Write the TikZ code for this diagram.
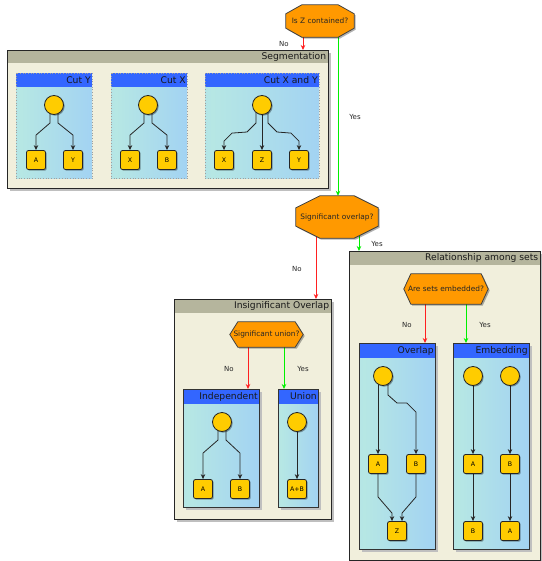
\documentclass[tikz,border=0pt]{standalone}
\usepackage{fontspec}
\setmainfont{DejaVu Sans}
\usetikzlibrary{calc,shadows,arrows.meta}
\pgfdeclarelayer{framelayer}
\pgfdeclarelayer{edgelayer}
\pgfdeclarelayer{decbg}
\pgfsetlayers{framelayer,edgelayer,decbg,main}
\definecolor{frbg}{HTML}{F1EFDC}
\definecolor{frtitlecol}{HTML}{B5B59D}
\definecolor{bxtitle}{HTML}{3366FF}
\definecolor{shA}{HTML}{A6D3F4}
\definecolor{shB}{HTML}{B6E7E4}
\definecolor{shC}{HTML}{98C8FA}
\definecolor{dorange}{HTML}{FF9900}
\definecolor{dyellow}{HTML}{FFCC00}
\definecolor{lred}{HTML}{FF2020}
\definecolor{lgreen}{HTML}{00F000}
\pgfdeclarehorizontalshading{boxshade}{100bp}{color(0bp)=(shA); color(28bp)=(shB); color(100bp)=(shC)}
\tikzset{
  frbody/.style={rectangle, inner sep=0, anchor=north west, fill=frbg,
    drop shadow={shadow xshift=3pt, shadow yshift=-3pt, opacity=1, fill=black!25}},
  frborder/.style={draw=black!85, line width=0.9pt},
  ttl/.style={inner sep=0, font=\fontsize{9.2}{11}\selectfont, text=black!90},
  segbox/.style={rectangle, inner sep=0, anchor=north west, shading=boxshade},
  segborder/.style={draw=gray!75, dotted, line width=0.7pt},
  solbox/.style={rectangle, inner sep=0, anchor=north west, shading=boxshade,
    drop shadow={shadow xshift=3pt, shadow yshift=-3pt, opacity=1, fill=black!25}},
  solborder/.style={draw=black!80, line width=0.8pt},
  circ/.style={circle, minimum size=19pt, inner sep=0, fill=dyellow, draw=black!85, line width=0.8pt,
    drop shadow={shadow xshift=1.2pt, shadow yshift=-1.2pt, opacity=0.35, fill=black}},
  leaf/.style={rectangle, rounded corners=2pt, minimum size=19pt, inner sep=0, fill=dyellow,
    draw=black!85, line width=0.8pt, font=\fontsize{6.3}{7}\selectfont,
    drop shadow={shadow xshift=1.2pt, shadow yshift=-1.2pt, opacity=0.35, fill=black}},
  dec/.style={rectangle, inner sep=0, font=\fontsize{7.4}{8}\selectfont, text=black!85},
  decshape/.style={fill=dorange, draw=black!75, line width=0.8pt,
    drop shadow={shadow xshift=1.5pt, shadow yshift=-1.5pt, opacity=0.3, fill=black}},
  ed/.style={draw=black!85, line width=0.8pt, -{Stealth[length=5pt,width=4.5pt]}},
  redl/.style={draw=lred, line width=0.8pt, -{Stealth[length=5pt,width=4.5pt]}},
  greenl/.style={draw=lgreen, line width=0.8pt, -{Stealth[length=5pt,width=4.5pt]}},
  lbl/.style={inner sep=0, font=\fontsize{7}{8}\selectfont, text=black!85},
}
\newcommand\bigframe[7]{%
  \begin{pgfonlayer}{framelayer}
  \node[frbody, minimum width=#4pt, minimum height=#5pt] (#1) at (#2,#3) {};
  \fill[frtitlecol] (#1.north west) rectangle ($(#1.north east)+(0,#6)$);
  \node[ttl, anchor=east] (#1t) at ($(#1.north east)+(-2,#6/2)$) {#7};
  \draw[frborder] (#1.north west) rectangle (#1.south east);
  \end{pgfonlayer}}
\newcommand\innerbox[8]{%
  \begin{pgfonlayer}{framelayer}
  \node[#7, minimum width=#4pt, minimum height=#5pt] (#1) at (#2,#3) {};
  \fill[bxtitle] (#1.north west) rectangle ($(#1.north east)+(0,14.5)$);
  \node[ttl, anchor=east] (#1t) at ($(#1.north east)+(-1.5,7.5)$) {#6};
  \draw[#8] (#1.north west) rectangle (#1.south east);
  \end{pgfonlayer}}
\newcommand\octo[3]{%
  \begin{pgfonlayer}{decbg}
  \draw[decshape] ($(#1.north west)+(#2,0)$) -- ($(#1.north east)+(-#2,0)$) -- ($(#1.north east)+(0,#3)$)
   -- ($(#1.south east)+(0,-#3)$) -- ($(#1.south east)+(-#2,0)$) -- ($(#1.south west)+(#2,0)$)
   -- ($(#1.south west)+(0,-#3)$) -- ($(#1.north west)+(0,#3)$) -- cycle;
  \end{pgfonlayer}}
\newcommand\hexa[2]{%
  \begin{pgfonlayer}{decbg}
  \draw[decshape] ($(#1.north west)+(#2,0)$) -- ($(#1.north east)+(-#2,0)$) -- (#1.east)
   -- ($(#1.south east)+(-#2,0)$) -- ($(#1.south west)+(#2,0)$) -- (#1.west) -- cycle;
  \end{pgfonlayer}}
\begin{document}
\begin{tikzpicture}[x=1pt,y=-1pt]
\useasboundingbox (0,0) rectangle (541,561);
% frames
\bigframe{seg}{7}{50}{321}{138}{13}{Segmentation}
\bigframe{insig}{174}{299}{157}{220}{14}{Insignificant Overlap}
\bigframe{rel}{349}{251}{191}{309}{14}{Relationship among sets}
\innerbox{cuty}{16}{73}{76}{105}{Cut Y}{segbox}{segborder}
\innerbox{cutx}{111}{73}{76}{105}{Cut X}{segbox}{segborder}
\innerbox{cutxy}{205}{73}{114}{105}{Cut X and Y}{segbox}{segborder}
\innerbox{indep}{183}{389}{76}{118}{Independent}{solbox}{solborder}
\innerbox{union}{278}{389}{40}{118}{Union}{solbox}{solborder}
\innerbox{ovl}{359}{343}{76}{206}{Overlap}{solbox}{solborder}
\innerbox{emb}{453}{343}{76}{206}{Embedding}{solbox}{solborder}
% decisions
\node[dec, minimum width=68pt, minimum height=32pt] (d1) at (320,21) {Is Z contained?};
\octo{d1}{16}{9}
\node[dec, minimum width=82pt, minimum height=42pt] (d2) at (337,217) {Significant overlap?};
\octo{d2}{24}{12}
\node[dec, minimum width=73pt, minimum height=25pt] (d3) at (266.5,334.5) {Significant union?};
\hexa{d3}{8}
\node[dec, minimum width=84pt, minimum height=30pt] (d4) at (446,289) {Are sets embedded?};
\hexa{d4}{7}
% Cut Y
\node[circ] (cy0) at (54,105) {};
\node[leaf] (cyA) at (36,160) {A};
\node[leaf] (cyY) at (73,160) {Y};
% Cut X
\node[circ] (cx0) at (148,105) {};
\node[leaf] (cxX) at (130,160) {X};
\node[leaf] (cxB) at (167,160) {B};
% Cut X and Y
\node[circ] (cxy0) at (262,105) {};
\node[leaf] (cxyX) at (224,160) {X};
\node[leaf] (cxyZ) at (262,160) {Z};
\node[leaf] (cxyY) at (299,160) {Y};
% Independent
\node[circ] (in0) at (222,422) {};
\node[leaf] (inA) at (203,489) {A};
\node[leaf] (inB) at (240,489) {B};
% Union
\node[circ] (un0) at (297,422) {};
\node[leaf] (unAB) at (297,489) {A+B};
% Overlap
\node[circ] (ov0) at (383,376) {};
\node[leaf] (ovA) at (378,464) {A};
\node[leaf] (ovB) at (416,464) {B};
\node[leaf] (ovZ) at (397,531) {Z};
% Embedding
\node[circ] (em1) at (473,376) {};
\node[circ] (em2) at (510,376) {};
\node[leaf] (emA) at (473,464) {A};
\node[leaf] (emB) at (510,464) {B};
\node[leaf] (emB2) at (473,531) {B};
\node[leaf] (emA2) at (510,531) {A};
% labels
\node[lbl] (l1) at (284,44) {No};
\node[lbl] (l2) at (355,117) {Yes};
\node[lbl] (l3) at (297,269) {No};
\node[lbl] (l4) at (377,244) {Yes};
\node[lbl] (l5) at (229,369) {No};
\node[lbl] (l6) at (303,369) {Yes};
\node[lbl] (l7) at (407,325) {No};
\node[lbl] (l8) at (485,325) {Yes};
\begin{pgfonlayer}{edgelayer}
% decision connectors
\path (d1.center) ++(-17,0) coordinate (s1);
\draw[redl] (s1) -- (s1 |- seg.north);
\path (d1.center) ++(18,0) coordinate (s2);
\draw[greenl] (s2) -- (s2 |- d2.north);
\path (d2.center) ++(-21,0) coordinate (s3);
\draw[redl] (s3) -- (s3 |- insig.north);
\path (d2.center) ++(22,0) coordinate (s4);
\draw[greenl] (s4) -- (s4 |- rel.north);
\path (d3.center) ++(-18.5,0) coordinate (s5);
\draw[redl] (s5) -- (s5 |- indep.north);
\path (d3.center) ++(17.5,0) coordinate (s6);
\draw[greenl] (s6) -- (s6 |- union.north);
\path (d4.center) ++(-21,0) coordinate (s7);
\draw[redl] (s7) -- (s7 |- ovl.north);
\path (d4.center) ++(20,0) coordinate (s8);
\draw[greenl] (s8) -- (s8 |- emb.north);
% Cut Y
\draw[ed] ($(cy0)+(-4,0)$) -- ($(cy0)+(-4,18)$) -- ($(cyA.north)+(0,-15)$) -- (cyA.north);
\draw[ed] ($(cy0)+(4,0)$) -- ($(cy0)+(4,18)$) -- ($(cyY.north)+(0,-15)$) -- (cyY.north);
% Cut X
\draw[ed] ($(cx0)+(-4,0)$) -- ($(cx0)+(-4,18)$) -- ($(cxX.north)+(0,-15)$) -- (cxX.north);
\draw[ed] ($(cx0)+(4,0)$) -- ($(cx0)+(4,18)$) -- ($(cxB.north)+(0,-15)$) -- (cxB.north);
% Cut X and Y
\draw[ed] ($(cxy0)+(-6,0)$) -- ($(cxy0)+(-6,18)$) -- ($(cxy0)+(-15,27)$) -- ($(cxyX.north)+(8,-17)$) -- ($(cxyX.north)+(0,-9)$) -- (cxyX.north);
\draw[ed] (cxy0) -- (cxyZ.north);
\draw[ed] ($(cxy0)+(6,0)$) -- ($(cxy0)+(6,18)$) -- ($(cxy0)+(15,27)$) -- ($(cxyY.north)+(-8,-17)$) -- ($(cxyY.north)+(0,-9)$) -- (cxyY.north);
% Independent
\draw[ed] ($(in0)+(-4,0)$) -- ($(in0)+(-4,18)$) -- ($(inA.north)+(0,-26)$) -- (inA.north);
\draw[ed] ($(in0)+(4,0)$) -- ($(in0)+(4,18)$) -- ($(inB.north)+(0,-26)$) -- (inB.north);
% Union
\draw[ed] (un0) -- (unAB.north);
% Overlap
\draw[ed] ($(ov0)+(-5,0)$) -- (ovA.north);
\draw[ed] ($(ov0)+(5,0)$) -- ($(ov0)+(5,19)$) -- ($(ov0)+(14,27)$) -- ($(ovB.north)+(-9,-51)$) -- ($(ovB.north)+(0,-42)$) -- (ovB.north);
\draw[ed] (ovA.south) -- ($(ovA.south)+(0,23)$) -- ($(ovZ.north)+(-5,-8)$) -- ($(ovZ.north)+(-5,0)$);
\draw[ed] (ovB.south) -- ($(ovB.south)+(0,23)$) -- ($(ovZ.north)+(5,-8)$) -- ($(ovZ.north)+(5,0)$);
% Embedding
\draw[ed] (em1) -- (emA.north);
\draw[ed] (emA) -- (emB2.north);
\draw[ed] (em2) -- (emB.north);
\draw[ed] (emB) -- (emA2.north);
\end{pgfonlayer}
\end{tikzpicture}
\end{document}
